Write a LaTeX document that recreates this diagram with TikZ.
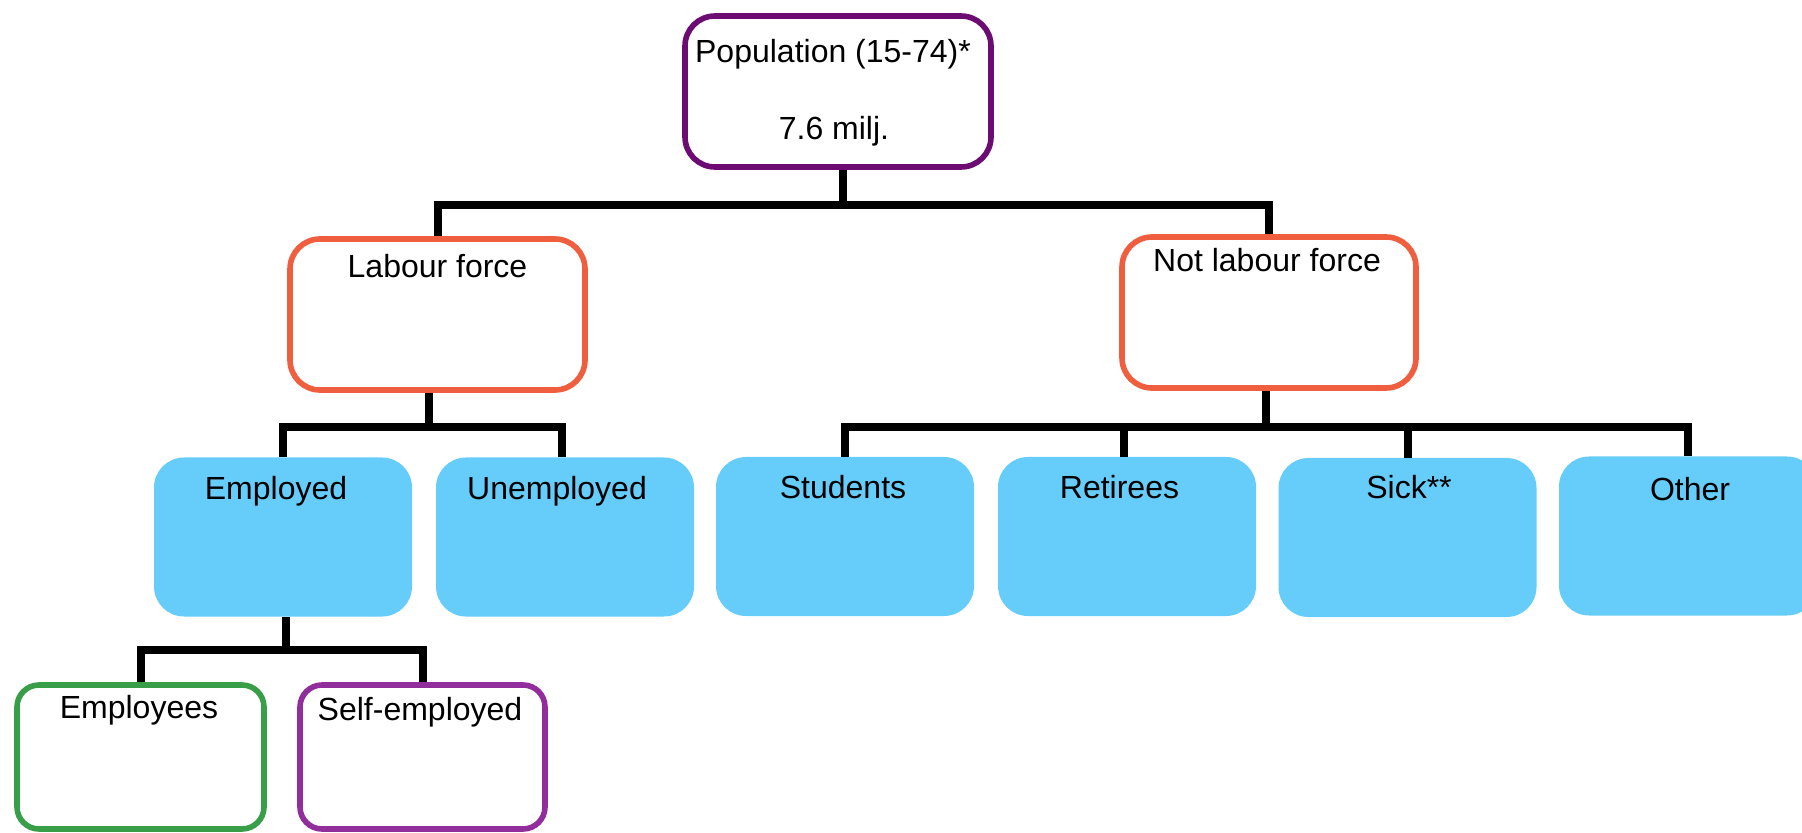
\documentclass[tikz,border=0pt]{standalone}
\usepackage{fontspec}
\setmainfont{Liberation Sans}
\definecolor{poppurple}{HTML}{6C0C72}
\definecolor{lforange}{HTML}{EF5F3F}
\definecolor{boxblue}{HTML}{66CDFA}
\definecolor{empgreen}{HTML}{389E47}
\definecolor{selfpurple}{HTML}{922E9B}
\tikzset{
  outlinebox/.style={draw=#1, line width=2.8pt, fill=white, rounded corners=15pt, inner sep=0pt},
  bluebox/.style={fill=boxblue, draw=none, rounded corners=15pt, inner sep=0pt,
                  minimum width=129pt, minimum height=79.5pt},
  txt/.style={font=\fontsize{16pt}{19pt}\selectfont, inner sep=0pt, anchor=base},
  conn/.style={draw=black, line width=4pt, line join=miter}
}
\begin{document}
\begin{tikzpicture}[x=0.5pt, y=-0.5pt]
\useasboundingbox (0,0) rectangle (1802,833);
\begin{scope}
\clip (0,0) rectangle (1802,833);
% boxes
\node[outlinebox=poppurple, minimum width=153pt, minimum height=75.5pt] (pop) at (838,91.5) {};
\node[outlinebox=lforange, minimum width=147.5pt, minimum height=75.5pt] (lab) at (437.5,314.5) {};
\node[outlinebox=lforange, minimum width=147pt, minimum height=75.5pt] (nlf) at (1269,312.5) {};
\node[bluebox] (emp) at (283,537) {};
\node[bluebox] (unemp) at (565,537) {};
\node[bluebox] (stud) at (845,536.5) {};
\node[bluebox] (ret) at (1127,536.5) {};
\node[bluebox] (sick) at (1407.5,537.5) {};
\node[bluebox] (oth) at (1688,536) {};
\node[outlinebox=empgreen, rounded corners=11pt, minimum width=123.5pt, minimum height=72pt] (emps) at (140.5,757) {};
\node[outlinebox=selfpurple, rounded corners=11pt, minimum width=122.5pt, minimum height=72pt] (self) at (422.5,757) {};
% texts
\node[txt] (tpop) at (833,63) {Population (15-74)*};
\node[txt] (tpop2) at (834,140) {7.6 milj.};
\node[txt] (tlab) at (437.5,278) {Labour force};
\node[txt] (tnlf) at (1267,272) {Not labour force};
\node[txt] (temp) at (276,499) {Employed};
\node[txt] (tunemp) at (557,499) {Unemployed};
\node[txt] (tstud) at (843,498) {Students};
\node[txt] (tret) at (1119.5,498) {Retirees};
\node[txt] (tsick) at (1409,498) {Sick**};
\node[txt] (toth) at (1690,500) {Other};
\node[txt] (temps) at (139,718) {Employees};
\node[txt] (tself) at (420,720) {Self-employed};
% connectors
\coordinate (bus1) at (843,205);
\draw[conn] (pop.south -| bus1) -- (bus1);
\draw[conn] (lab.north) |- (bus1) -| (nlf.north);
\coordinate (bus2) at (429,427);
\draw[conn] (lab.south -| bus2) -- (bus2);
\draw[conn] (emp.north) |- (bus2) -| ([xshift=-1.5pt]unemp.north);
\coordinate (bus3) at (1266,427);
\draw[conn] (nlf.south -| bus3) -- (bus3);
\draw[conn] (stud.north) |- (bus3) -| (oth.north);
\draw[conn] ([xshift=-1.5pt]ret.north) -- ([xshift=-1.5pt]ret.north |- bus3);
\draw[conn] (sick.north) -- (sick.north |- bus3);
\coordinate (bus4) at (286,650);
\draw[conn] (emp.south -| bus4) -- (bus4);
\draw[conn] (emps.north) |- (bus4) -| (self.north);
\end{scope}
\end{tikzpicture}
\end{document}
